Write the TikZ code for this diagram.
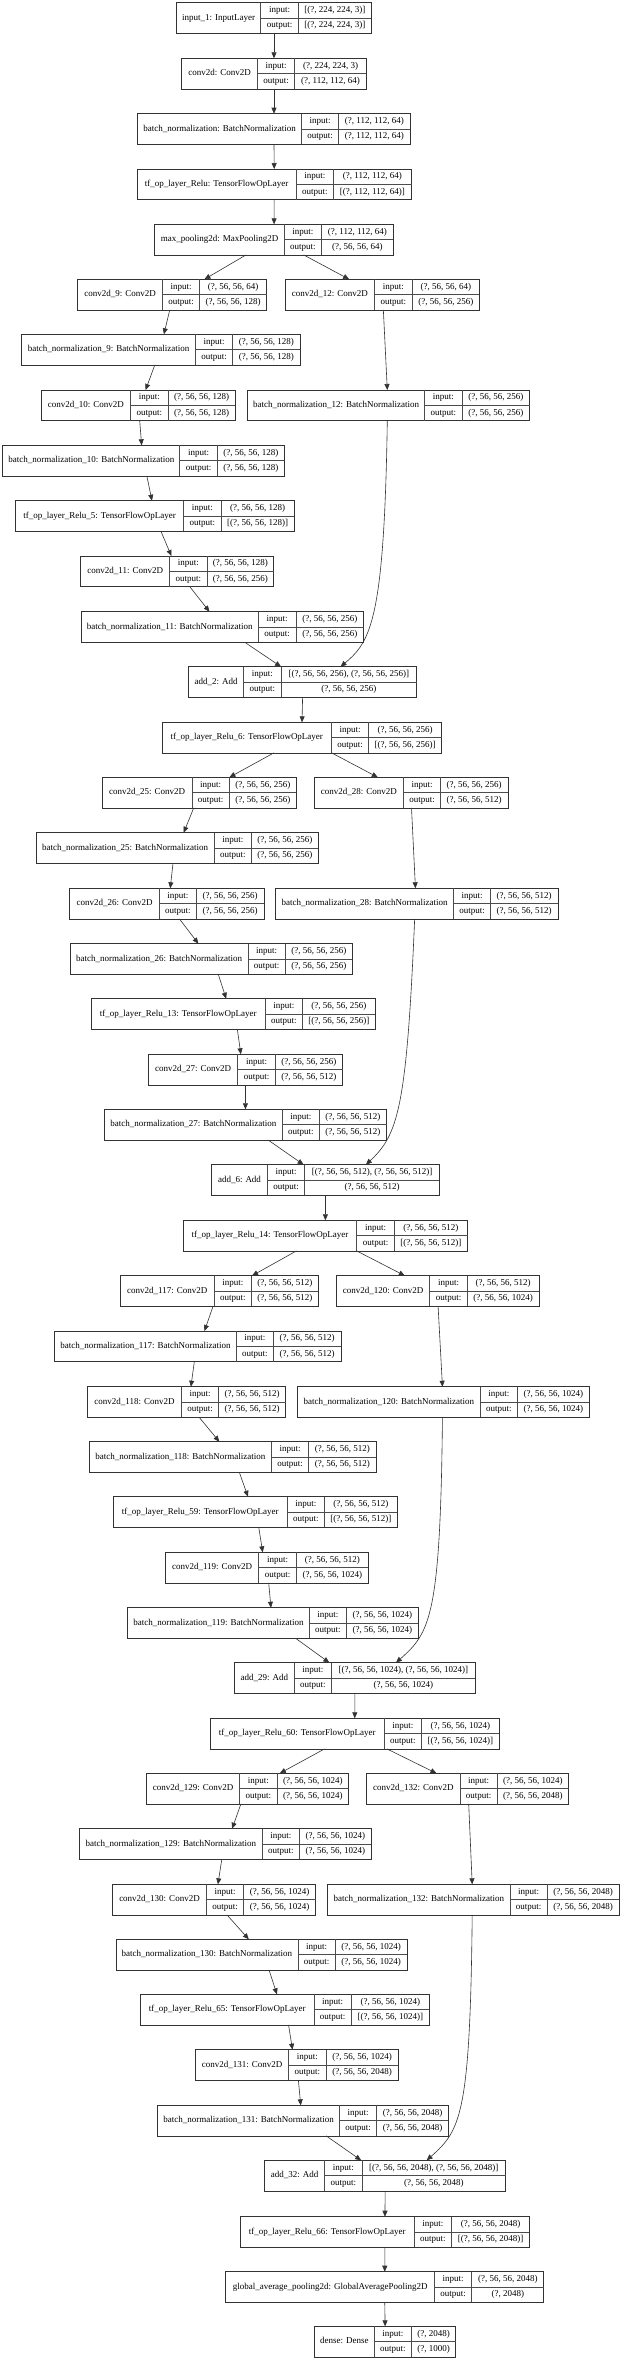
\documentclass[tikz,border=0pt]{standalone}
\usepackage{fontspec}
\setmainfont{Liberation Serif}
\usetikzlibrary{arrows.meta}

\tikzset{
  layerbox/.style={rectangle, draw=black!80, line width=0.8pt, minimum height=30.6pt, inner sep=0pt, outer sep=0pt},
  cell/.style={draw=black!70, line width=0.8pt},
  txt/.style={inner sep=0pt, text height=6.4pt, text depth=2pt, font=\fontsize{9}{10}\selectfont},
  arr/.style={draw=black!80, line width=0.6pt, -{Triangle[length=6pt,width=5pt]}}
}

% name, left, split 1, split 2, right, top, label, input, output
\newcommand{\kerasnode}[9]{%
  \node[layerbox, minimum width={(#5-#2)*1pt}] (#1) at ({(#2+#5)/2},{#6+15.3}) {};
  \draw[cell] ({#3},{#6}) -- ({#3},{#6+30.6})
              ({#4},{#6}) -- ({#4},{#6+30.6})
              ({#3},{#6+15.3}) -- ({#5},{#6+15.3});
  \node[txt] (#1-name) at ({(#2+#3)/2},{#6+15.3}) {#7};
  \node[txt] (#1-inl) at ({(#3+#4)/2},{#6+7.65}) {input:};
  \node[txt] (#1-outl) at ({(#3+#4)/2},{#6+22.95}) {output:};
  \node[txt] (#1-inv) at ({(#4+#5)/2},{#6+7.65}) {#8};
  \node[txt] (#1-outv) at ({(#4+#5)/2},{#6+22.95}) {#9};
}

\begin{document}
\begin{tikzpicture}[x=1pt, y=-1pt]
  \fill[white] (0,0) rectangle (622,2361);
  \useasboundingbox (0,0) rectangle (622,2361);

  % stem
  \kerasnode{input1}{176.6}{260.7}{298.4}{371.4}{2.7}{input\_1: InputLayer}{[(?, 224, 224, 3)]}{[(?, 224, 224, 3)]}
  \kerasnode{conv2d}{181.7}{257.5}{294.8}{366.3}{58.3}{conv2d: Conv2D}{(?, 224, 224, 3)}{(?, 112, 112, 64)}
  \kerasnode{bn}{137.7}{301.6}{338.5}{410.3}{113.7}{batch\_normalization: BatchNormalization}{(?, 112, 112, 64)}{(?, 112, 112, 64)}
  \kerasnode{relu}{136.9}{296.4}{333.3}{411.5}{169}{tf\_op\_layer\_Relu: TensorFlowOpLayer}{(?, 112, 112, 64)}{[(?, 112, 112, 64)]}
  \kerasnode{maxpool}{154.8}{284.5}{321.4}{393.3}{224.3}{max\_pooling2d: MaxPooling2D}{(?, 112, 112, 64)}{(?, 56, 56, 64)}

  % block 1
  \kerasnode{conv9}{77.4}{162.7}{199.6}{266.7}{279.3}{conv2d\_9: Conv2D}{(?, 56, 56, 64)}{(?, 56, 56, 128)}
  \kerasnode{conv12}{285.3}{374.6}{412.3}{479.4}{279.3}{conv2d\_12: Conv2D}{(?, 56, 56, 64)}{(?, 56, 56, 256)}
  \kerasnode{bn9}{21.8}{195.6}{232.5}{300}{334.3}{batch\_normalization\_9: BatchNormalization}{(?, 56, 56, 128)}{(?, 56, 56, 128)}
  \kerasnode{conv10}{41.3}{130.6}{167.9}{235.3}{390}{conv2d\_10: Conv2D}{(?, 56, 56, 128)}{(?, 56, 56, 128)}
  \kerasnode{bn12}{247.6}{424.6}{461.9}{529.8}{390}{batch\_normalization\_12: BatchNormalization}{(?, 56, 56, 256)}{(?, 56, 56, 256)}
  \kerasnode{bn10}{2.8}{179.8}{217.5}{284.1}{445.3}{batch\_normalization\_10: BatchNormalization}{(?, 56, 56, 128)}{(?, 56, 56, 128)}
  \kerasnode{relu5}{15.5}{183.7}{221}{294.4}{500.7}{tf\_op\_layer\_Relu\_5: TensorFlowOpLayer}{(?, 56, 56, 128)}{[(?, 56, 56, 128)]}
  \kerasnode{conv11}{80.6}{169.8}{207.1}{273.8}{556}{conv2d\_11: Conv2D}{(?, 56, 56, 128)}{(?, 56, 56, 256)}
  \kerasnode{bn11}{81.3}{258.3}{296}{363.5}{611.7}{batch\_normalization\_11: BatchNormalization}{(?, 56, 56, 256)}{(?, 56, 56, 256)}
  \kerasnode{add2}{188.5}{243.7}{281}{416.7}{666.7}{add\_2: Add}{[(?, 56, 56, 256), (?, 56, 56, 256)]}{(?, 56, 56, 256)}
  \kerasnode{relu6}{162.3}{331.3}{368.7}{441.7}{722.3}{tf\_op\_layer\_Relu\_6: TensorFlowOpLayer}{(?, 56, 56, 256)}{[(?, 56, 56, 256)]}

  % block 2
  \kerasnode{conv25}{102.4}{192}{229.4}{296.4}{777.3}{conv2d\_25: Conv2D}{(?, 56, 56, 256)}{(?, 56, 56, 256)}
  \kerasnode{conv28}{313.9}{403.6}{440.5}{507.9}{777.3}{conv2d\_28: Conv2D}{(?, 56, 56, 256)}{(?, 56, 56, 512)}
  \kerasnode{bn25}{36.5}{213.9}{251.6}{318.3}{832.7}{batch\_normalization\_25: BatchNormalization}{(?, 56, 56, 256)}{(?, 56, 56, 256)}
  \kerasnode{conv26}{69.8}{159.5}{196.4}{263.9}{888.3}{conv2d\_26: Conv2D}{(?, 56, 56, 256)}{(?, 56, 56, 256)}
  \kerasnode{bn28}{275.8}{453.6}{490.5}{557.9}{888.3}{batch\_normalization\_28: BatchNormalization}{(?, 56, 56, 512)}{(?, 56, 56, 512)}
  \kerasnode{bn26}{70.2}{248}{285.3}{352.4}{943.7}{batch\_normalization\_26: BatchNormalization}{(?, 56, 56, 256)}{(?, 56, 56, 256)}
  \kerasnode{relu13}{91.3}{265.1}{302.4}{375.4}{998.7}{tf\_op\_layer\_Relu\_13: TensorFlowOpLayer}{(?, 56, 56, 256)}{[(?, 56, 56, 256)]}
  \kerasnode{conv27}{148.4}{237.7}{275.4}{342.5}{1054.3}{conv2d\_27: Conv2D}{(?, 56, 56, 256)}{(?, 56, 56, 512)}
  \kerasnode{bn27}{104.4}{282.1}{319.4}{386.5}{1109.3}{batch\_normalization\_27: BatchNormalization}{(?, 56, 56, 512)}{(?, 56, 56, 512)}
  \kerasnode{add6}{211.5}{267.5}{304.8}{439.3}{1164.7}{add\_6: Add}{[(?, 56, 56, 512), (?, 56, 56, 512)]}{(?, 56, 56, 512)}
  \kerasnode{relu14}{183.3}{356.7}{394.4}{467.5}{1220.3}{tf\_op\_layer\_Relu\_14: TensorFlowOpLayer}{(?, 56, 56, 512)}{[(?, 56, 56, 512)]}

  % block 3
  \kerasnode{conv117}{120.6}{213.9}{251.6}{318.3}{1275.7}{conv2d\_117: Conv2D}{(?, 56, 56, 512)}{(?, 56, 56, 512)}
  \kerasnode{conv120}{336.5}{429.8}{467.5}{538.9}{1275.7}{conv2d\_120: Conv2D}{(?, 56, 56, 512)}{(?, 56, 56, 1024)}
  \kerasnode{bn117}{54.4}{236.5}{273.4}{340.9}{1331}{batch\_normalization\_117: BatchNormalization}{(?, 56, 56, 512)}{(?, 56, 56, 512)}
  \kerasnode{conv118}{87.7}{181.3}{218.7}{285.7}{1386.7}{conv2d\_118: Conv2D}{(?, 56, 56, 512)}{(?, 56, 56, 512)}
  \kerasnode{bn120}{297.6}{480.2}{517.5}{589.3}{1386.7}{batch\_normalization\_120: BatchNormalization}{(?, 56, 56, 1024)}{(?, 56, 56, 1024)}
  \kerasnode{bn118}{89.3}{271.4}{308.7}{376.2}{1441.7}{batch\_normalization\_118: BatchNormalization}{(?, 56, 56, 512)}{(?, 56, 56, 512)}
  \kerasnode{relu59}{113.5}{286.9}{324.6}{397.2}{1496.7}{tf\_op\_layer\_Relu\_59: TensorFlowOpLayer}{(?, 56, 56, 512)}{[(?, 56, 56, 512)]}
  \kerasnode{conv119}{165.5}{258.7}{296.4}{368.3}{1552.3}{conv2d\_119: Conv2D}{(?, 56, 56, 512)}{(?, 56, 56, 1024)}
  \kerasnode{bn119}{127.4}{309.5}{346.4}{418.3}{1607.7}{batch\_normalization\_119: BatchNormalization}{(?, 56, 56, 1024)}{(?, 56, 56, 1024)}
  \kerasnode{add29}{234.5}{294.4}{331.3}{475.4}{1662.7}{add\_29: Add}{[(?, 56, 56, 1024), (?, 56, 56, 1024)]}{(?, 56, 56, 1024)}
  \kerasnode{relu60}{210.3}{384.1}{421.4}{499.2}{1718.3}{tf\_op\_layer\_Relu\_60: TensorFlowOpLayer}{(?, 56, 56, 1024)}{[(?, 56, 56, 1024)]}

  % block 4
  \kerasnode{conv129}{146.4}{239.7}{277}{348.8}{1773.3}{conv2d\_129: Conv2D}{(?, 56, 56, 1024)}{(?, 56, 56, 1024)}
  \kerasnode{conv132}{366.7}{459.9}{497.2}{568.7}{1773.3}{conv2d\_132: Conv2D}{(?, 56, 56, 1024)}{(?, 56, 56, 2048)}
  \kerasnode{bn129}{79.8}{261.9}{299.6}{371}{1828.7}{batch\_normalization\_129: BatchNormalization}{(?, 56, 56, 1024)}{(?, 56, 56, 1024)}
  \kerasnode{conv130}{112.7}{206.3}{243.7}{315.5}{1884.3}{conv2d\_130: Conv2D}{(?, 56, 56, 1024)}{(?, 56, 56, 1024)}
  \kerasnode{bn132}{327.8}{509.9}{547.2}{619}{1884.3}{batch\_normalization\_132: BatchNormalization}{(?, 56, 56, 2048)}{(?, 56, 56, 2048)}
  \kerasnode{bn130}{115.9}{298}{335.3}{407.1}{1939.3}{batch\_normalization\_130: BatchNormalization}{(?, 56, 56, 1024)}{(?, 56, 56, 1024)}
  \kerasnode{relu65}{140.5}{313.9}{351.2}{429.4}{1994.3}{tf\_op\_layer\_Relu\_65: TensorFlowOpLayer}{(?, 56, 56, 1024)}{[(?, 56, 56, 1024)]}
  \kerasnode{conv131}{195.6}{288.5}{326.2}{398}{2049.7}{conv2d\_131: Conv2D}{(?, 56, 56, 1024)}{(?, 56, 56, 2048)}
  \kerasnode{bn131}{157.5}{339.7}{376.6}{448.4}{2105.3}{batch\_normalization\_131: BatchNormalization}{(?, 56, 56, 2048)}{(?, 56, 56, 2048)}
  \kerasnode{add32}{264.7}{324.6}{361.9}{505.6}{2160.3}{add\_32: Add}{[(?, 56, 56, 2048), (?, 56, 56, 2048)]}{(?, 56, 56, 2048)}
  \kerasnode{relu66}{240.5}{413.9}{451.6}{529.4}{2216.7}{tf\_op\_layer\_Relu\_66: TensorFlowOpLayer}{(?, 56, 56, 2048)}{[(?, 56, 56, 2048)]}

  % head
  \kerasnode{gap}{225.8}{434.5}{471.8}{543.7}{2271.7}{global\_average\_pooling2d: GlobalAveragePooling2D}{(?, 56, 56, 2048)}{(?, 2048)}
  \kerasnode{dense}{314.7}{374.2}{411.5}{455.6}{2326.3}{dense: Dense}{(?, 2048)}{(?, 1000)}

  % edges
  \draw[arr] (input1.south) -- (conv2d.north);
  \draw[arr] (conv2d.south) -- (bn.north);
  \draw[arr] (bn.south) -- (relu.north);
  \draw[arr] (relu.south) -- (maxpool.north);
  \draw[arr] ([xshift=-28pt]maxpool.south) -- ([xshift=32.4pt]conv9.north);
  \draw[arr] ([xshift=29.6pt]maxpool.south) -- ([xshift=-33.2pt]conv12.north);
  \draw[arr] ([xshift=-2.3pt]conv9.south) -- ([xshift=3pt]bn9.north);
  \draw[arr] ([xshift=1pt]conv12.south) -- ([xshift=-1.4pt]bn12.north);
  \draw[arr] ([xshift=-6.1pt]bn9.south) -- ([xshift=7.3pt]conv10.north);
  \draw[arr] ([xshift=1.4pt]conv10.south) -- ([xshift=-1.8pt]bn10.north);
  \draw[arr] ([xshift=3.4pt]bn10.south) -- ([xshift=-3pt]relu5.north);
  \draw[arr] ([xshift=6pt]relu5.south) -- ([xshift=-5.8pt]conv11.north);
  \draw[arr] ([xshift=12.5pt]conv11.south) -- ([xshift=-12.9pt]bn11.north);
  \draw[arr] ([xshift=22.4pt]bn11.south) -- ([xshift=-21.6pt]add2.north);
  \draw[arr] ([xshift=-1.4pt]bn12.south) .. controls +(-3,200) and +(30,-25) .. ([xshift=37.9pt]add2.north);
  \draw[arr] (add2.south) -- (relu6.north);
  \draw[arr] ([xshift=-28.2pt]relu6.south) -- ([xshift=30pt]conv25.north);
  \draw[arr] ([xshift=29.7pt]relu6.south) -- ([xshift=-33.1pt]conv28.north);
  \draw[arr] ([xshift=-5.7pt]conv25.south) -- ([xshift=6.3pt]bn25.north);
  \draw[arr] ([xshift=0.6pt]conv28.south) -- ([xshift=-1.4pt]bn28.north);
  \draw[arr] ([xshift=-4.4pt]bn25.south) -- ([xshift=3.4pt]conv26.north);
  \draw[arr] ([xshift=12.6pt]conv26.south) -- ([xshift=-12.9pt]bn26.north);
  \draw[arr] ([xshift=7pt]bn26.south) -- ([xshift=-7.2pt]relu13.north);
  \draw[arr] ([xshift=4pt]relu13.south) -- ([xshift=-4.6pt]conv27.north);
  \draw[arr] (conv27.south) -- (bn27.north);
  \draw[arr] ([xshift=22.5pt]bn27.south) -- ([xshift=-21.8pt]add6.north);
  \draw[arr] ([xshift=-2.2pt]bn28.south) .. controls +(-8,190) and +(32,-30) .. ([xshift=40.5pt]add6.north);
  \draw[arr] (add6.south) -- (relu14.north);
  \draw[arr] ([xshift=-29pt]relu14.south) -- ([xshift=32.6pt]conv117.north);
  \draw[arr] ([xshift=31.3pt]relu14.south) -- ([xshift=-32.9pt]conv120.north);
  \draw[arr] ([xshift=-6.4pt]conv117.south) -- ([xshift=6.8pt]bn117.north);
  \draw[arr] ([xshift=0.4pt]conv120.south) -- ([xshift=-1pt]bn120.north);
  \draw[arr] ([xshift=-3.3pt]bn117.south) -- ([xshift=4.2pt]conv118.north);
  \draw[arr] ([xshift=12.5pt]conv118.south) -- ([xshift=-13.4pt]bn118.north);
  \draw[arr] ([xshift=6.6pt]bn118.south) -- ([xshift=-7.4pt]relu59.north);
  \draw[arr] ([xshift=3.4pt]relu59.south) -- ([xshift=-4.2pt]conv119.north);
  \draw[arr] ([xshift=1.8pt]conv119.south) -- ([xshift=-1.9pt]bn119.north);
  \draw[arr] ([xshift=22.8pt]bn119.south) -- ([xshift=-25.6pt]add29.north);
  \draw[arr] ([xshift=-1pt]bn120.south) .. controls +(-2,200) and +(34,-30) .. ([xshift=41pt]add29.north);
  \draw[arr] (add29.south) -- (relu60.north);
  \draw[arr] ([xshift=-30.2pt]relu60.south) -- ([xshift=32.2pt]conv129.north);
  \draw[arr] ([xshift=32.2pt]relu60.south) -- ([xshift=-31.2pt]conv132.north);
  \draw[arr] ([xshift=-6.7pt]conv129.south) -- ([xshift=6.7pt]bn129.north);
  \draw[arr] ([xshift=1pt]conv132.south) -- ([xshift=-1.2pt]bn132.north);
  \draw[arr] ([xshift=-3.6pt]bn129.south) -- ([xshift=3.8pt]conv130.north);
  \draw[arr] ([xshift=12.9pt]conv130.south) -- ([xshift=-12.7pt]bn130.north);
  \draw[arr] ([xshift=7.5pt]bn130.south) -- ([xshift=-8pt]relu65.north);
  \draw[arr] ([xshift=3.6pt]relu65.south) -- ([xshift=-4.3pt]conv131.north);
  \draw[arr] ([xshift=1.6pt]conv131.south) -- ([xshift=-2.2pt]bn131.north);
  \draw[arr] ([xshift=23.3pt]bn131.south) -- ([xshift=-24pt]add32.north);
  \draw[arr] ([xshift=-1.2pt]bn132.south) .. controls +(-2,200) and +(34,-30) .. ([xshift=41.5pt]add32.north);
  \draw[arr] (add32.south) -- (relu66.north);
  \draw[arr] (relu66.south) -- (gap.north);
  \draw[arr] (gap.south) -- (dense.north);
\end{tikzpicture}
\end{document}
